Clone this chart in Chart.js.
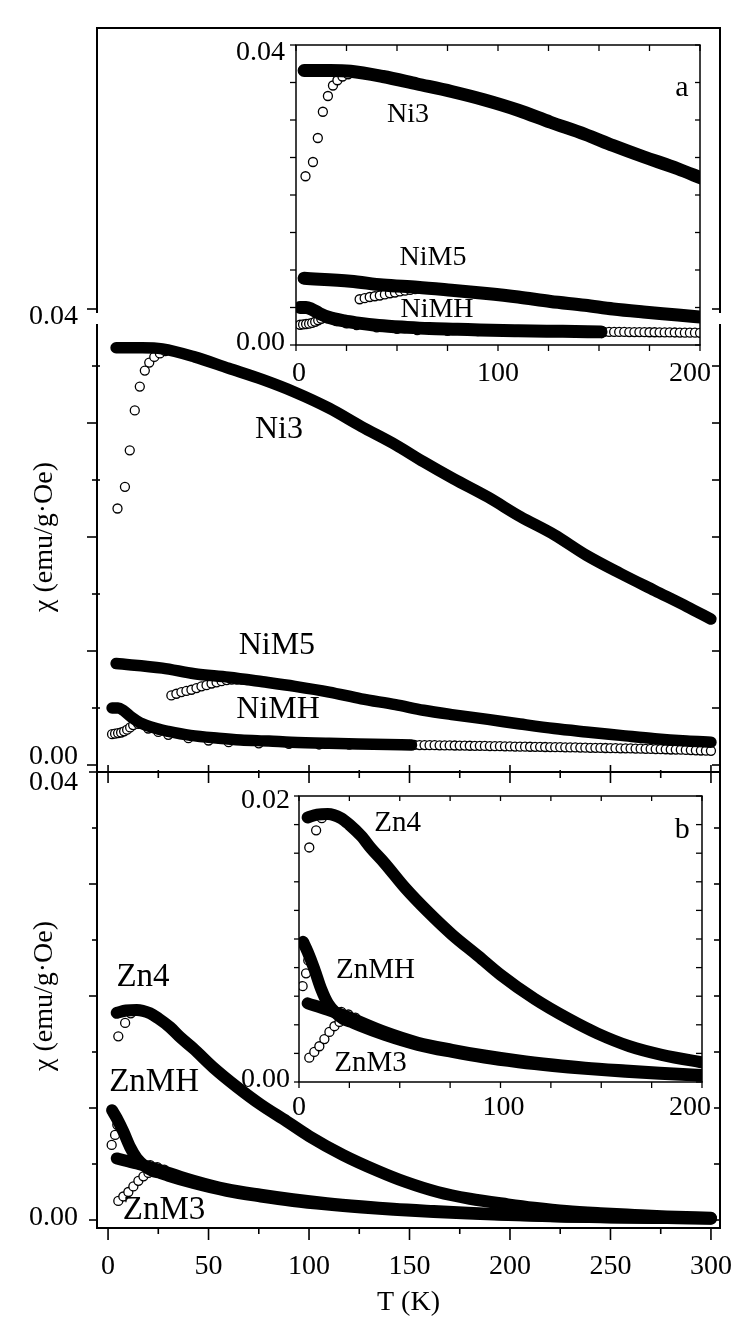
<!DOCTYPE html>
<html>
<head>
<meta charset="utf-8">
<script src="https://cdn.jsdelivr.net/npm/chart.js@4.4.1/dist/chart.umd.min.js"></script>
<style>
  html, body { margin: 0; padding: 0; background: #fff; }
  #wrap { position: relative; width: 751px; height: 1331px; }
  #wrap canvas { position: absolute; left: 0; top: 0; }
</style>
</head>
<body>
<div id="wrap">
  <canvas id="panel-a" width="751" height="1331"></canvas>
  <canvas id="panel-b" width="751" height="1331"></canvas>
  <canvas id="inset-a" width="751" height="1331"></canvas>
  <canvas id="inset-b" width="751" height="1331"></canvas>
</div>
<script>
// axis ticks
const tTicks = [0, 25, 50, 75, 100, 125, 150, 175, 200, 225, 250, 275, 300];
const tMajor = [0, 50, 100, 150, 200, 250, 300];
const tLabels = [0, 50, 100, 150, 200, 250, 300];
const tTicksInset = [0, 25, 50, 75, 100, 125, 150, 175, 200];
const tLabelsInset = [0, 100, 200];
const chiTicks = [0, 0.005, 0.01, 0.015, 0.02, 0.025, 0.03, 0.035, 0.04];
const chiMajor = [0, 0.01, 0.02, 0.03, 0.04];
const chiLabels = [0, 0.04];
const chiTicksInsetB = [0, 0.002, 0.004, 0.006, 0.008, 0.01, 0.012, 0.014, 0.016, 0.018, 0.02];
const chiLabelsInsetB = [0, 0.02];

// (a) Ni samples, FC = filled, ZFC = open
const tNi3FC = [4, 10, 17, 27, 43, 60, 77, 93, 110, 126, 143, 157, 172, 189, 205, 222, 238, 255, 272, 288, 300];
const chiNi3FC = [0.0366, 0.0366, 0.0366, 0.0365, 0.0358, 0.0348, 0.0338, 0.0327, 0.0313, 0.0297, 0.0281, 0.0266, 0.0251, 0.0235, 0.0218, 0.0202, 0.0184, 0.0168, 0.0153, 0.0139, 0.0128];
const tNi3ZFC = [4.7, 8.4, 10.8, 13.3, 15.8, 18.3, 20.5, 23, 25.8, 28.5];
const chiNi3ZFC = [0.0225, 0.0244, 0.0276, 0.0311, 0.0332, 0.0346, 0.0353, 0.0358, 0.0361, 0.0363];

const tNiM5FC = [4, 27, 43, 60, 77, 93, 110, 126, 143, 157, 172, 189, 205, 222, 238, 255, 272, 288, 300];
const chiNiM5FC = [0.0089, 0.0085, 0.0080, 0.0077, 0.0073, 0.0069, 0.0064, 0.0058, 0.0053, 0.0048, 0.0044, 0.0040, 0.0036, 0.0032, 0.0029, 0.0026, 0.0023, 0.0021, 0.0020];
const tNiM5ZFC = [31.5, 34, 36.5, 39, 41.5, 44, 46.5, 49, 51.5, 54, 56.5, 59, 61.5, 64, 66.5, 69];
const chiNiM5ZFC = [0.0061, 0.00625, 0.0064, 0.0065, 0.0066, 0.00675, 0.0069, 0.0070, 0.00715, 0.00725, 0.00735, 0.00745, 0.0075, 0.0075, 0.0075, 0.00745];

const tNiMHFC = [2, 5, 7.5, 11.6, 16, 24, 30, 41, 55, 66, 80, 91, 110, 132, 151];
const chiNiMHFC = [0.0050, 0.0050, 0.0048, 0.0042, 0.0037, 0.0032, 0.00295, 0.0026, 0.00235, 0.0022, 0.0021, 0.0020, 0.0019, 0.00182, 0.00175];
const tNiMHZFC = [2, 3.5, 5, 6.5, 8, 9.5, 11, 12.5, 15, 20, 25, 30, 40, 50, 60, 75, 90, 105, 120, 135,
  150, 152.5, 155, 157.5, 160, 162.5, 165, 167.5, 170, 172.5, 175, 177.5, 180, 182.5, 185, 187.5, 190, 192.5, 195, 197.5,
  200, 202.5, 205, 207.5, 210, 212.5, 215, 217.5, 220, 222.5, 225, 227.5, 230, 232.5, 235, 237.5, 240, 242.5, 245, 247.5,
  250, 252.5, 255, 257.5, 260, 262.5, 265, 267.5, 270, 272.5, 275, 277.5, 280, 282.5, 285, 287.5, 290, 292.5, 295, 297.5, 300];
const chiNiMHZFC = [0.0027, 0.00275, 0.0028, 0.00285, 0.00295, 0.0031, 0.0033, 0.0035, 0.0036, 0.0032, 0.0029, 0.00265, 0.00235, 0.00215, 0.0020, 0.0019, 0.00185, 0.0018, 0.00178, 0.00176,
  0.00176, 0.00176, 0.00175, 0.00175, 0.00174, 0.00174, 0.00173, 0.00172, 0.00172, 0.00171, 0.00170, 0.00170, 0.00169, 0.00168, 0.00168, 0.00167, 0.00166, 0.00165, 0.00165, 0.00164,
  0.00163, 0.00162, 0.00161, 0.00161, 0.00160, 0.00159, 0.00159, 0.00158, 0.00157, 0.00156, 0.00156, 0.00155, 0.00154, 0.00154, 0.00153, 0.00152, 0.00151, 0.00151, 0.00150, 0.00149,
  0.00148, 0.00148, 0.00146, 0.00146, 0.00145, 0.00144, 0.00143, 0.00142, 0.00141, 0.00140, 0.00139, 0.00138, 0.00136, 0.00135, 0.00134, 0.00132, 0.00131, 0.00129, 0.00127, 0.00126, 0.00124];

// (b) Zn samples
const tZn4FC = [4.3, 9, 14.3, 20.9, 25, 30.9, 36, 42.5, 52.5, 64, 76, 89, 100, 117, 134, 148, 164, 180, 199, 212, 228, 245, 262, 278, 300];
const chiZn4FC = [0.0185, 0.0187, 0.01875, 0.01845, 0.0180, 0.0172, 0.0163, 0.0153, 0.0136, 0.0119, 0.0103, 0.0088, 0.0075, 0.0058, 0.0044, 0.0034, 0.0025, 0.0019, 0.0014, 0.0011, 0.0008, 0.0006, 0.00045, 0.00032, 0.0002];
const tZn4ZFC = [5.1, 8.5, 11.3, 13.8];
const chiZn4ZFC = [0.0164, 0.0176, 0.01845, 0.0187];

const tZnMHFC = [2, 4.3, 7.6, 11, 14.3, 18.4, 22, 26, 30, 42.5, 59, 76, 92, 109, 126, 142, 162, 179, 195, 212, 228, 245, 262, 278, 300];
const chiZnMHFC = [0.0098, 0.0091, 0.0079, 0.0065, 0.0055, 0.0048, 0.0044, 0.0042, 0.00395, 0.0033, 0.0026, 0.0021, 0.0017, 0.00138, 0.00112, 0.00092, 0.00072, 0.00058, 0.00047, 0.00037, 0.0003, 0.00025, 0.0002, 0.00017, 0.00012];
const tZnMHZFC = [1.8, 3.5, 4.6, 21, 24.5, 28];
const chiZnMHZFC = [0.0067, 0.0076, 0.0085, 0.0049, 0.00472, 0.0045];

const tZnM3FC = [4.3, 14.3, 26, 42.5, 59, 76, 92, 109, 126, 142, 162, 179, 195, 212, 228, 245, 262, 278, 300];
const chiZnM3FC = [0.0055, 0.00505, 0.00445, 0.0035, 0.00275, 0.00225, 0.00185, 0.0015, 0.00122, 0.0010, 0.0008, 0.00065, 0.00052, 0.0004, 0.00032, 0.00027, 0.00022, 0.00018, 0.00014];
const tZnM3ZFC = [5.1, 7.6, 10.1, 12.6, 15.1, 17.6, 20.1, 22.6, 25.1];
const chiZnM3ZFC = [0.0017, 0.0021, 0.0025, 0.0030, 0.0035, 0.0039, 0.0042, 0.0044, 0.0045];

const SERIF = '"Liberation Serif", "Times New Roman", serif';

function pts(ts, cs) {
  return ts.map((t, i) => ({ x: t, y: cs[i] }));
}

function fcSet(ts, cs, w, clip) {
  return {
    data: pts(ts, cs), showLine: true, borderColor: '#000', borderWidth: w,
    pointRadius: 0, cubicInterpolationMode: 'monotone',
    borderCapStyle: 'round', borderJoinStyle: 'round', order: 1, clip: clip
  };
}

function zfcSet(ts, cs, r, clip) {
  return {
    data: pts(ts, cs), showLine: false, pointRadius: r,
    pointBackgroundColor: '#fff', pointBorderColor: '#000', pointBorderWidth: 1.3,
    order: 2, clip: clip
  };
}

// frame, ticks and text, all placed through the chart's scales
function framePlugin(cfg) {
  return {
    id: 'frame',
    afterDraw(chart) {
      const ctx = chart.ctx, a = chart.chartArea;
      const xs = chart.scales.x, ys = chart.scales.y;
      ctx.save();
      ctx.strokeStyle = '#000';
      ctx.fillStyle = '#000';
      ctx.lineWidth = cfg.width;
      const vline = (x) => {
        ctx.beginPath();
        if (cfg.gap) {
          ctx.moveTo(x, a.top); ctx.lineTo(x, cfg.gap[0]);
          ctx.moveTo(x, cfg.gap[1]); ctx.lineTo(x, a.bottom);
        } else {
          ctx.moveTo(x, a.top); ctx.lineTo(x, a.bottom);
        }
        ctx.stroke();
      };
      vline(a.left);
      vline(a.right);
      ctx.beginPath();
      ctx.moveTo(a.left - cfg.width / 2, a.top); ctx.lineTo(a.right + cfg.width / 2, a.top);
      ctx.moveTo(a.left - cfg.width / 2, a.bottom); ctx.lineTo(a.right + cfg.width / 2, a.bottom);
      ctx.stroke();

      ctx.lineWidth = cfg.tickWidth;
      cfg.ticks.forEach(t => {
        const vertical = t.side === 'left' || t.side === 'right';
        const sc = vertical ? ys : xs;
        t.values.forEach(v => {
          const p = sc.getPixelForValue(v);
          const len = (t.major || []).includes(v) ? t.majorLen : t.minorLen;
          const out = len[0], inn = len[1];
          ctx.beginPath();
          if (t.side === 'left') { ctx.moveTo(a.left - out, p); ctx.lineTo(a.left + inn, p); }
          if (t.side === 'right') { ctx.moveTo(a.right + out, p); ctx.lineTo(a.right - inn, p); }
          if (t.side === 'bottom') { ctx.moveTo(p, a.bottom + out); ctx.lineTo(p, a.bottom - inn); }
          if (t.side === 'top') { ctx.moveTo(p, a.top - out); ctx.lineTo(p, a.top + inn); }
          ctx.stroke();
        });
      });

      ctx.textBaseline = 'middle';
      ctx.font = cfg.tickFont + 'px ' + SERIF;
      if (cfg.yLabels) {
        ctx.textAlign = 'right';
        cfg.yLabels.values.forEach((v, i) => {
          ctx.fillText(v.toFixed(2), a.left - cfg.yLabels.pad, ys.getPixelForValue(v) + cfg.yLabels.nudge[i]);
        });
      }
      if (cfg.xLabels) {
        ctx.textAlign = 'center';
        cfg.xLabels.values.forEach((v, i) => {
          ctx.fillText(String(v), xs.getPixelForValue(v) + cfg.xLabels.nudge[i], a.bottom + cfg.xLabels.pad);
        });
      }
      ctx.textAlign = 'center';
      (cfg.notes || []).forEach(n => {
        ctx.font = n.size + 'px ' + SERIF;
        ctx.fillText(n.text, xs.getPixelForValue(n.x), ys.getPixelForValue(n.y));
      });
      if (cfg.yTitle) {
        const yc = (ys.getPixelForValue(0) + ys.getPixelForValue(0.04)) / 2;
        ctx.save();
        ctx.font = cfg.tickFont + 'px ' + SERIF;
        ctx.translate(cfg.yTitle.x, yc);
        ctx.rotate(-Math.PI / 2);
        ctx.fillText(cfg.yTitle.text, 0, 0);
        ctx.restore();
      }
      if (cfg.xTitle) {
        ctx.font = cfg.tickFont + 'px ' + SERIF;
        ctx.fillText(cfg.xTitle.text, (a.left + a.right) / 2, a.bottom + cfg.xTitle.pad);
      }
      ctx.restore();
    }
  };
}

function makeChart(id, box, xr, yr, datasets, frame) {
  return new Chart(document.getElementById(id), {
    type: 'scatter',
    data: { datasets: datasets },
    options: {
      responsive: false,
      devicePixelRatio: 1,
      animation: false,
      events: [],
      layout: {
        padding: { left: box.left, top: box.top, right: 751 - box.right, bottom: 1331 - box.bottom }
      },
      scales: {
        x: { type: 'linear', min: xr[0], max: xr[1], display: false },
        y: { type: 'linear', min: yr[0], max: yr[1], display: false }
      },
      plugins: { legend: { display: false }, tooltip: { enabled: false } }
    },
    plugins: [framePlugin(frame)]
  });
}

function niSets(w, r, clip) {
  return [
    fcSet(tNi3FC, chiNi3FC, w, clip), fcSet(tNiM5FC, chiNiM5FC, w, clip), fcSet(tNiMHFC, chiNiMHFC, w, clip),
    zfcSet(tNi3ZFC, chiNi3ZFC, r, clip), zfcSet(tNiM5ZFC, chiNiM5ZFC, r, clip), zfcSet(tNiMHZFC, chiNiMHZFC, r, clip)
  ];
}

function znSets(w, r, clip) {
  return [
    fcSet(tZn4FC, chiZn4FC, w, clip), fcSet(tZnMHFC, chiZnMHFC, w, clip), fcSet(tZnM3FC, chiZnM3FC, w, clip),
    zfcSet(tZn4ZFC, chiZn4ZFC, r, clip), zfcSet(tZnMHZFC, chiZnMHZFC, r, clip), zfcSet(tZnM3ZFC, chiZnM3ZFC, r, clip)
  ];
}

// main panel (a)
makeChart('panel-a', { left: 97, top: 28, right: 720, bottom: 772 }, [-5.5, 304.5], [-0.000614, 0.06465],
  niSets(11.5, 4.5, undefined), {
    width: 2, tickWidth: 1.6, gap: [313, 324], tickFont: 28,
    ticks: [
      { side: 'left', values: chiTicks, major: chiMajor, majorLen: [10, 0], minorLen: [5, 3] },
      { side: 'right', values: chiTicks, major: [], majorLen: [0, 8], minorLen: [0, 8] },
      { side: 'bottom', values: tTicks, major: tMajor, majorLen: [11, 7], minorLen: [6, 2] }
    ],
    yLabels: { values: chiLabels, pad: 19, nudge: [-8, 8] },
    notes: [
      { text: 'Ni3', x: 85, y: 0.0294, size: 32 },
      { text: 'NiM5', x: 84, y: 0.0105, size: 32 },
      { text: 'NiMH', x: 84.6, y: 0.0049, size: 32 }
    ],
    yTitle: { text: 'χ (emu/g·Oe)', x: 45 }
  });

// main panel (b)
makeChart('panel-b', { left: 97, top: 772, right: 720, bottom: 1228 }, [-5.5, 304.5], [-0.000714, 0.04],
  znSets(12, 4.5, undefined), {
    width: 2, tickWidth: 1.6, gap: null, tickFont: 28,
    ticks: [
      { side: 'left', values: chiTicks, major: chiMajor, majorLen: [8, 0], minorLen: [5, 0] },
      { side: 'right', values: chiTicks, major: [], majorLen: [0, 6], minorLen: [0, 6] },
      { side: 'bottom', values: tTicks, major: tMajor, majorLen: [12, 0], minorLen: [6, 0] }
    ],
    yLabels: { values: chiLabels, pad: 19, nudge: [-2, 11] },
    xLabels: { values: tLabels, pad: 39, nudge: [0, 0, 0, 0, 0, 0, 0] },
    notes: [
      { text: 'Zn4', x: 17.4, y: 0.0217, size: 33 },
      { text: 'ZnMH', x: 22.9, y: 0.0123, size: 33 },
      { text: 'ZnM3', x: 27.9, y: 0.0009, size: 33 }
    ],
    yTitle: { text: 'χ (emu/g·Oe)', x: 45 },
    xTitle: { text: 'T (K)', pad: 75 }
  });

// inset (a)
makeChart('inset-a', { left: 296, top: 45, right: 700, bottom: 345 }, [0, 200], [0, 0.04],
  niSets(13, 4.5, 0), {
    width: 1.5, tickWidth: 1.3, gap: null, tickFont: 28,
    ticks: [
      { side: 'left', values: chiTicks, major: [], majorLen: [6, 0], minorLen: [6, 0] },
      { side: 'right', values: chiTicks, major: [], majorLen: [0, 5], minorLen: [0, 5] },
      { side: 'top', values: tTicksInset, major: [], majorLen: [0, 6], minorLen: [0, 6] },
      { side: 'bottom', values: tTicksInset, major: [], majorLen: [6, 0], minorLen: [6, 0] }
    ],
    yLabels: { values: chiLabels, pad: 11, nudge: [-2, 8] },
    xLabels: { values: tLabelsInset, pad: 29, nudge: [3, 0, -10] },
    notes: [
      { text: 'Ni3', x: 55.4, y: 0.0307, size: 28 },
      { text: 'NiM5', x: 67.8, y: 0.0117, size: 28 },
      { text: 'NiMH', x: 69.8, y: 0.0047, size: 28 },
      { text: 'a', x: 191, y: 0.0343, size: 30 }
    ]
  });

// inset (b)
makeChart('inset-b', { left: 299, top: 796, right: 702, bottom: 1082 }, [0, 200], [0, 0.02],
  znSets(12, 4.5, 0), {
    width: 1.5, tickWidth: 1.3, gap: null, tickFont: 28,
    ticks: [
      { side: 'left', values: chiTicksInsetB, major: [], majorLen: [5, 0], minorLen: [5, 0] },
      { side: 'right', values: chiTicksInsetB, major: [], majorLen: [0, 6], minorLen: [0, 6] },
      { side: 'top', values: tTicksInset, major: [], majorLen: [0, 5], minorLen: [0, 5] },
      { side: 'bottom', values: tTicksInset, major: [], majorLen: [6, 0], minorLen: [6, 0] }
    ],
    yLabels: { values: chiLabelsInsetB, pad: 9, nudge: [-2, 5] },
    xLabels: { values: tLabelsInset, pad: 26, nudge: [0, 3, -12] },
    notes: [
      { text: 'Zn4', x: 48.9, y: 0.0181, size: 29 },
      { text: 'ZnMH', x: 38, y: 0.0078, size: 29 },
      { text: 'ZnM3', x: 35.5, y: 0.0013, size: 29 },
      { text: 'b', x: 190.2, y: 0.0176, size: 30 }
    ]
  });
</script>
</body>
</html>
